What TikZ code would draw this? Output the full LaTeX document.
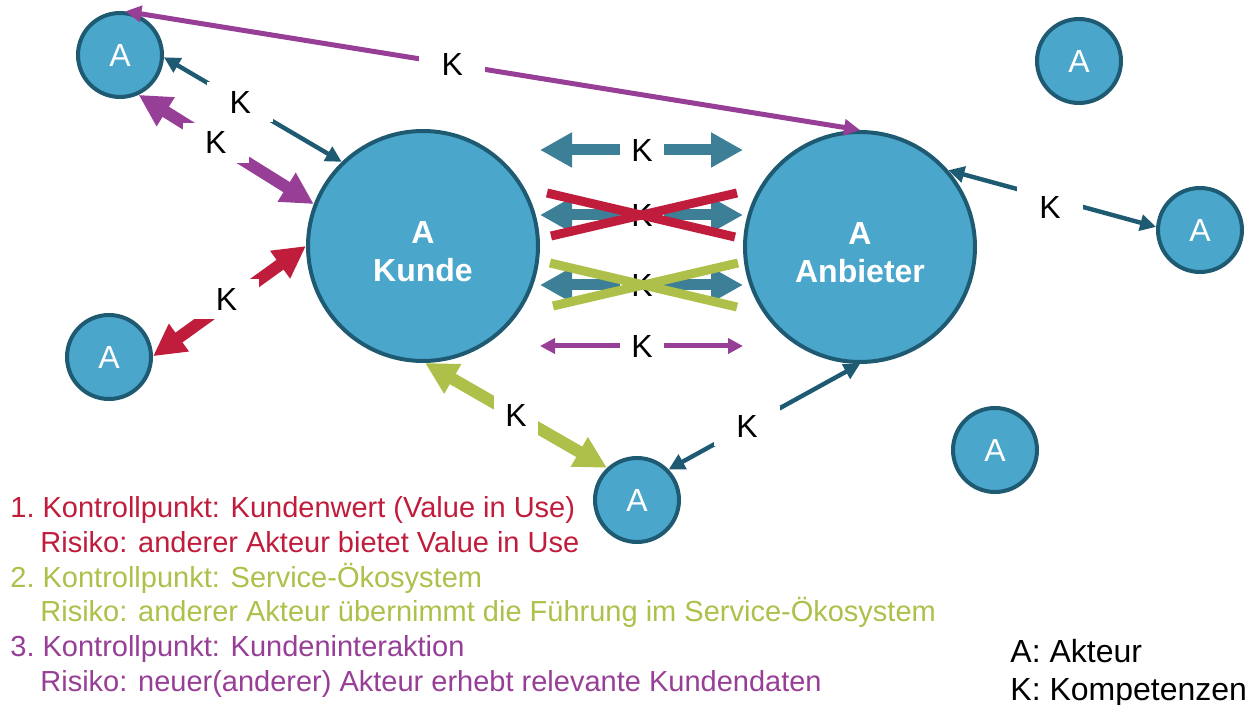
\documentclass[tikz,border=0pt]{standalone}
\usepackage{fontspec}
\setmainfont{Liberation Sans}
\usetikzlibrary{arrows.meta,positioning,calc}
\definecolor{ActorFill}{HTML}{4BA6CC}
\definecolor{ActorLine}{HTML}{1E5A72}
\definecolor{LinkTeal}{HTML}{3E7F98}
\definecolor{CtrlRed}{HTML}{C01C3C}
\definecolor{CtrlGreen}{HTML}{AEC04A}
\definecolor{CtrlPurple}{HTML}{973E97}

\begin{document}
\begin{tikzpicture}[x=0.5pt,y=-0.5pt,
  actor/.style={circle,fill=ActorFill,draw=ActorLine,line width=2pt,inner sep=0pt,text=white,font=\fontsize{16}{19}\selectfont},
  actorsmall/.style={actor,minimum size=42pt},
  actorbig/.style={actor,minimum size=115pt},
  bigtext/.style={text=white,align=center,yshift=-3pt,font=\fontsize{16}{19}\selectfont\bfseries},
  klabel/.style={fill=white,text=black,inner sep=0pt,minimum width=33pt,minimum height=20pt,font=\fontsize{16}{19}\selectfont},
  kmid/.style={klabel,minimum width=21.5pt},
  link/.style={ActorLine,line width=2.2pt,{Triangle[length=8pt,width=8pt]}-{Triangle[length=8pt,width=8pt]}},
  linkfine/.style={CtrlPurple,line width=2.5pt,{Triangle[length=8pt,width=8pt]}-{Triangle[length=8pt,width=8pt]}},
  linkfat/.style={line width=6pt,{Triangle[length=16pt,width=16pt]}-{Triangle[length=16pt,width=16pt]}},
  halffat/.style={LinkTeal,line width=5.5pt,-{Triangle[length=16pt,width=16.5pt]}},
  halffine/.style={CtrlPurple,line width=2.5pt,-{Triangle[length=7.5pt,width=7.5pt]}},
  cross/.style={line width=4.5pt},
  legend/.style={anchor=base west,inner sep=0pt,font=\fontsize{14.5}{17}\selectfont}
]
\useasboundingbox (0,0) rectangle (1260,705);

% actors
\node[actorbig,label={[bigtext]center:A\\Kunde}] (Kunde) at (423,246) {};
\node[actorbig,label={[bigtext]center:A\\Anbieter}] (Anbieter) at (860,247) {};
\node[actorsmall] (aTopLeft) at (120,55) {A};
\node[actorsmall] (aLeft) at (109,357) {A};
\node[actorsmall] (aBottom) at (637,500) {A};
\node[actorsmall] (aRight) at (1200,230) {A};
\node[actorsmall] (aTopRight) at (1079,61) {A};
\node[actorsmall] (aBottomRight) at (995,450) {A};

% competences between actors
\draw[linkfine] (aTopLeft.83) -- node[klabel,pos=0.445] (kTop) {K} (Anbieter.90);
\draw[link] (aTopLeft.-3) -- node[klabel,pos=0.43] (kTopLeft) {K} (Kunde.134);
\draw[linkfat,CtrlPurple] (aTopLeft.-65) -- node[klabel,pos=0.44] (kInter) {K} (Kunde.159);
\draw[linkfat,CtrlRed] (aLeft.1) -- node[klabel,pos=0.48,yshift=2pt] (kValue) {K} (Kunde.180);
\draw[linkfat,CtrlGreen] (Kunde.-89) -- node[klabel,pos=0.5,minimum width=22pt] (kEco) {K} (aBottom.133);
\draw[link] (aBottom.44) -- node[klabel,pos=0.41] (kBottom) {K} (Anbieter.-90);
\draw[link] (Anbieter.41) -- node[klabel,pos=0.49,yshift=-4.5pt] (kRight) {K} (aRight.176);

% competences between Kunde and Anbieter
\node[kmid] (kRowI) at (642,150) {K};
\node[kmid] (kRowII) at (642,215) {K};
\node[kmid] (kRowIII) at (642,285) {K};
\node[kmid] (kRowIV) at (642,346) {K};
\foreach \row in {I,II,III} {
  \coordinate (row\row l) at (Kunde.east |- kRow\row);
  \coordinate (row\row r) at (Anbieter.west |- kRow\row);
  \draw[halffat] (kRow\row.west) -- (row\row l);
  \draw[halffat] (kRow\row.east) -- (row\row r);
}
\coordinate (rowIVl) at (Kunde.east |- kRowIV);
\coordinate (rowIVr) at (Anbieter.west |- kRowIV);
\draw[halffine] (kRowIV.west) -- (rowIVl);
\draw[halffine] (kRowIV.east) -- (rowIVr);

% crossed out
\draw[cross,CtrlRed] ($(kRowII)+(-95,-22)$) -- ($(kRowII)+(93,22)$);
\draw[cross,CtrlRed] ($(kRowII)+(-91,21)$) -- ($(kRowII)+(95,-22)$);
\draw[cross,CtrlGreen] ($(kRowIII)+(-92,-22)$) -- ($(kRowIII)+(95,22)$);
\draw[cross,CtrlGreen] ($(kRowIII)+(-89,21)$) -- ($(kRowIII)+(96,-22)$);

% control points
\node[legend,text=CtrlRed] (ctrlI) at (10,518) {1.\ Kontrollpunkt: Kundenwert (Value in Use)};
\node[legend,text=CtrlRed] (riskI) at (40,553) {Risiko: anderer Akteur bietet Value in Use};
\node[legend,text=CtrlGreen] (ctrlII) at (10,588) {2.\ Kontrollpunkt: Service-Ökosystem};
\node[legend,text=CtrlGreen] (riskII) at (40,622) {Risiko: anderer Akteur übernimmt die Führung im Service-Ökosystem};
\node[legend,text=CtrlPurple] (ctrlIII) at (10,657) {3.\ Kontrollpunkt: Kundeninteraktion};
\node[legend,text=CtrlPurple] (riskIII) at (40,692) {Risiko: neuer(anderer) Akteur erhebt relevante Kundendaten};

% key
\node[legend,font=\fontsize{16}{19}\selectfont] (keyA) at (1010,663) {A: Akteur};
\node[legend,font=\fontsize{16}{19}\selectfont] (keyK) at (1010,701) {K: Kompetenzen};
\end{tikzpicture}
\end{document}
